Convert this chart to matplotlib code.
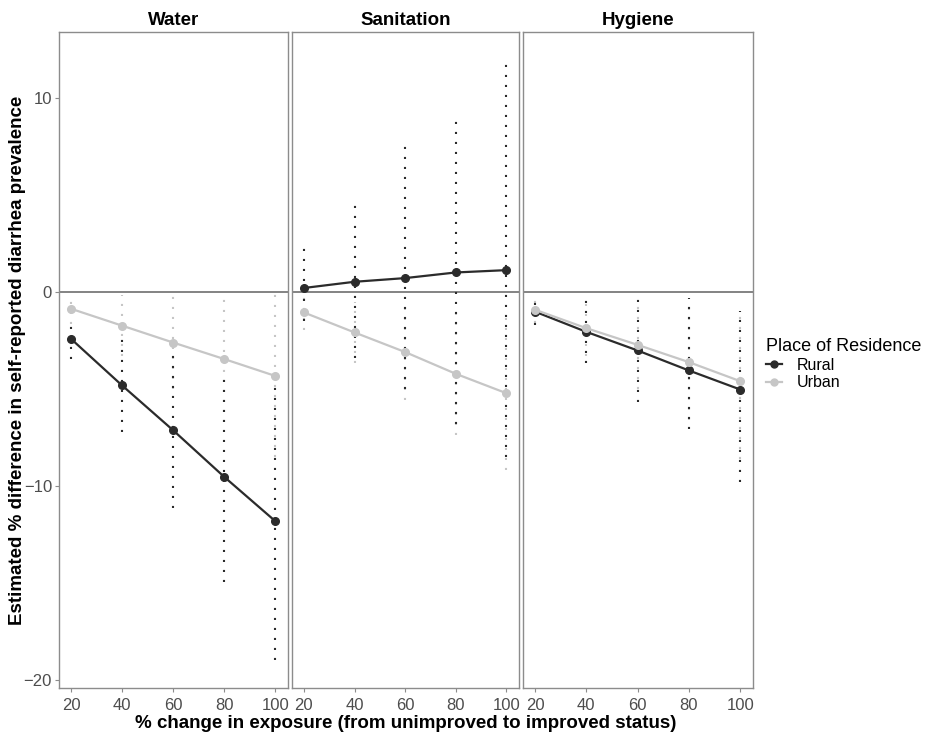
#!/usr/bin/env python3
"""Faceted WASH exposure plot: estimated % difference in diarrhea prevalence."""
import matplotlib.pyplot as plt
from matplotlib.lines import Line2D

# Colors
RURAL = "#2b2b2b"
URBAN = "#c6c6c6"
FRAME = "#8c8c8c"
TICK = "#4d4d4d"

exposure = [20, 40, 60, 80, 100]
panels = ["Water", "Sanitation", "Hygiene"]

water_rural = [-2.41, -4.81, -7.12, -9.52, -11.8]
water_rural_lo = [-3.45, -7.22, -11.13, -14.95, -18.95]
water_rural_hi = [-1.4, -2.4, -3.1, -4.1, -4.65]
water_urban = [-0.86, -1.73, -2.6, -3.45, -4.32]
water_urban_lo = [-1.63, -3.3, -5.0, -6.7, -8.5]
water_urban_hi = [-0.1, -0.17, -0.17, -0.17, -0.09]

san_rural = [0.21, 0.53, 0.72, 1.01, 1.13]
san_rural_lo = [-1.5, -3.4, -5.0, -6.8, -8.5]
san_rural_hi = [2.4, 4.6, 7.56, 9.07, 11.97]
san_urban = [-1.05, -2.08, -3.09, -4.21, -5.21]
san_urban_lo = [-1.94, -3.66, -5.55, -7.36, -9.16]
san_urban_hi = [-0.16, -0.5, -0.63, -1.06, -1.26]

hyg_rural = [-1.01, -2.05, -3.01, -4.04, -5.02]
hyg_rural_lo = [-1.69, -3.63, -5.64, -7.06, -9.8]
hyg_rural_hi = [-0.19, -0.25, -0.31, -0.31, -1.0]
hyg_urban = [-0.91, -1.86, -2.72, -3.61, -4.59]
hyg_urban_lo = [-1.6, -3.3, -5.0, -6.6, -8.6]
hyg_urban_hi = [-0.2, -0.3, -0.4, -0.5, -0.9]

series = [
    (water_rural, water_rural_lo, water_rural_hi, water_urban, water_urban_lo, water_urban_hi),
    (san_rural, san_rural_lo, san_rural_hi, san_urban, san_urban_lo, san_urban_hi),
    (hyg_rural, hyg_rural_lo, hyg_rural_hi, hyg_urban, hyg_urban_lo, hyg_urban_hi),
]

plt.rcParams["font.family"] = ["Liberation Sans", "DejaVu Sans"]

fig = plt.figure(figsize=(9.3, 7.36), dpi=100)
fig.patch.set_facecolor("white")

lefts = [59, 292, 523]
widths = [229, 227, 230]
top_px, bot_px = 32, 688
dots = (0, (1, 3.8))

for i, name in enumerate(panels):
    ax = fig.add_axes([lefts[i] / 930, 1 - bot_px / 736, widths[i] / 930,
                       (bot_px - top_px) / 736])
    r, rlo, rhi, u, ulo, uhi = series[i]
    ax.axhline(0, color="#7a7a7a", lw=1.3, zorder=1)
    ax.vlines(exposure, ulo, uhi, colors=URBAN, linestyles=dots, lw=1.5, zorder=2)
    ax.vlines(exposure, rlo, rhi, colors=RURAL, linestyles=dots, lw=1.5, zorder=2)
    ax.plot(exposure, r, color=RURAL, lw=1.6, marker="o", ms=5.5, zorder=3)
    ax.plot(exposure, u, color=URBAN, lw=1.6, marker="o", ms=5.5, zorder=3)
    ax.set_xlim(15.3, 105)
    ax.set_ylim(-20.4, 13.4)
    ax.set_xticks(exposure)
    ax.set_yticks([-20, -10, 0, 10])
    for s in ax.spines.values():
        s.set_color(FRAME)
        s.set_linewidth(1.0)
    ax.tick_params(colors=FRAME, labelcolor=TICK, labelsize=12, length=3,
                   width=0.8, pad=2)
    ax.tick_params(axis="x", pad=4)
    if i > 0:
        ax.tick_params(axis="y", left=False, labelleft=False)
    ax.set_title(name, fontsize=13.5, fontweight="bold", pad=5)

fig.text(18 / 930, 1 - 360 / 736,
         "Estimated % difference in self-reported diarrhea prevalence",
         rotation=90, ha="center", va="center", fontsize=13.5, fontweight="bold")
fig.text(406 / 930, 1 - 723 / 736,
         "% change in exposure (from unimproved to improved status)",
         ha="center", va="center", fontsize=13.5, fontweight="bold")

handles = [
    Line2D([], [], color=RURAL, lw=1.6, marker="o", ms=5),
    Line2D([], [], color=URBAN, lw=1.6, marker="o", ms=5),
]
fig.legend(handles, ["Rural", "Urban"], title="Place of Residence",
           loc="upper left", bbox_to_anchor=(752 / 930, 1 - 324 / 736),
           frameon=False, fontsize=11.5, title_fontsize=13,
           handlelength=1.0, handletextpad=0.9, labelspacing=0.15,
           alignment="left")

fig.savefig("out.png", dpi=100, facecolor="white")
